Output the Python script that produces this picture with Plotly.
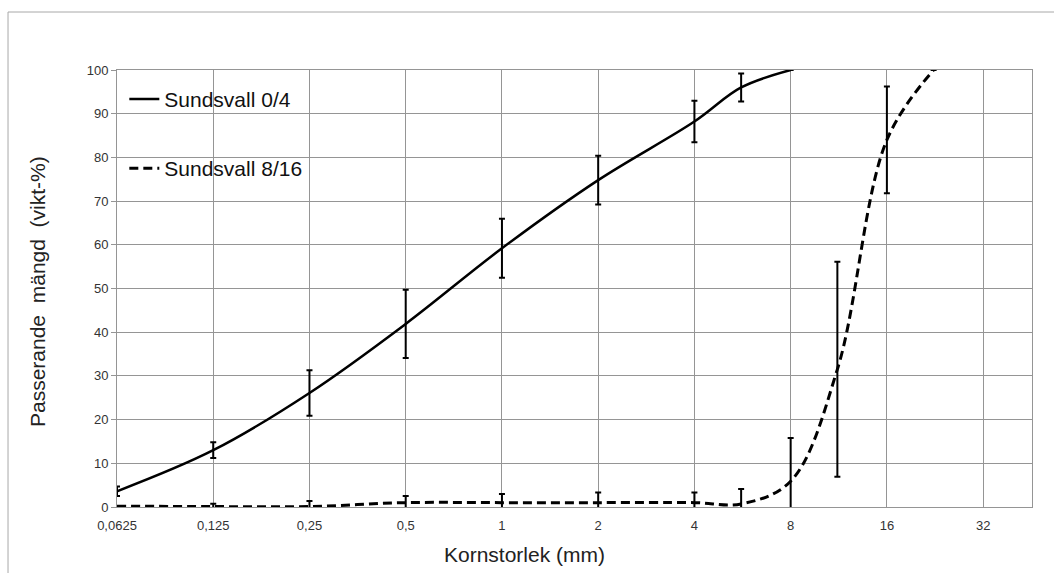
import numpy as np
import plotly.graph_objects as go

# Sieve sizes (mm) and passing percentages
sieve_04 = [0.0625, 0.125, 0.25, 0.5, 1, 2, 4, 5.6, 8]
pass_04 = [3.6, 13.0, 26.1, 41.9, 59.2, 74.8, 88.2, 96.0, 100]
err_04 = [1.1, 1.8, 5.2, 7.8, 6.75, 5.6, 4.75, 3.2, 0]

sieve_816 = [0.0625, 0.125, 0.25, 0.5, 1, 2, 4, 5.6, 8, 11.2, 16, 22.4]
pass_816 = [0.2, 0.1, 0.1, 1.0, 1.0, 1.0, 1.0, 0.7, 5.9, 31.5, 84.0, 100]
err_816 = [0, 0.65, 1.3, 1.5, 2.0, 2.3, 2.3, 3.4, 9.9, 24.6, 12.2, 0]

x_tickvals = [0.0625, 0.125, 0.25, 0.5, 1, 2, 4, 8, 16, 32]
x_ticktext = ["0,0625", "0,125", "0,25", "0,5", "1", "2", "4", "8", "16", "32"]
y_tickvals = [0, 10, 20, 30, 40, 50, 60, 70, 80, 90, 100]

FONT = "Liberation Sans, Arial, sans-serif"
GRID = "#959595"

fig = go.Figure()

fig.add_trace(go.Scatter(
    x=sieve_04, y=pass_04, name="Sundsvall 0/4", mode="lines",
    line=dict(color="black", width=2.5, shape="spline", smoothing=1.0),
    error_y=dict(type="data", array=err_04, visible=True, color="black",
                 thickness=2, width=3),
    legendgroup="a",
))

fig.add_trace(go.Scatter(
    x=sieve_816, y=pass_816, name="Sundsvall 8/16", mode="lines",
    line=dict(color="black", width=3, dash="9px,5px", shape="spline", smoothing=1.0),
    error_y=dict(type="data", array=err_816, visible=True, color="black",
                 thickness=2, width=3),
    legendgroup="b",
))

# Chart-area frame
fig.add_shape(type="rect", xref="paper", yref="paper",
              x0=-0.1191, x1=1.3, y0=-0.4, y1=1.1327,
              line=dict(color="#a8a8a8", width=1), layer="below")

# Axis titles
fig.add_annotation(text="Kornstorlek (mm)", xref="paper", yref="paper",
                   x=0.445, y=-0.1076, xanchor="center", yanchor="middle",
                   showarrow=False, font=dict(size=21, color="#222222"))
fig.add_annotation(text="Passerande  mängd  (vikt-%)", xref="paper", yref="paper",
                   x=-0.0863, y=0.492, xanchor="center", yanchor="middle",
                   textangle=-90, showarrow=False,
                   font=dict(size=21, color="#222222"))

fig.update_layout(
    width=1054, height=573,
    margin=dict(l=117, r=22, t=70, b=66),
    paper_bgcolor="white", plot_bgcolor="white",
    font=dict(family=FONT, color="#222222"),
    showlegend=True,
    legend=dict(x=0.008, y=0.98, xanchor="left", yanchor="top",
                bgcolor="rgba(0,0,0,0)", font=dict(size=21, color="#111111"),
                tracegroupgap=39, itemwidth=30),
    xaxis=dict(
        type="log",
        range=[np.log10(0.0625), np.log10(45.5)],
        tickvals=x_tickvals, ticktext=x_ticktext,
        tickfont=dict(size=13, color="#333333"),
        showgrid=True, gridcolor=GRID, gridwidth=1,
        showline=True, linecolor=GRID, linewidth=1, mirror=True,
        ticks="", ticklabelstandoff=6,
        zeroline=False,
    ),
    yaxis=dict(
        range=[0, 100],
        tickvals=y_tickvals,
        tickfont=dict(size=13, color="#333333"),
        showgrid=True, gridcolor=GRID, gridwidth=1,
        showline=True, linecolor=GRID, linewidth=1, mirror=True,
        ticks="outside", ticklen=5, tickcolor=GRID,
        zeroline=False,
    ),
)

fig.write_html("out.html")
